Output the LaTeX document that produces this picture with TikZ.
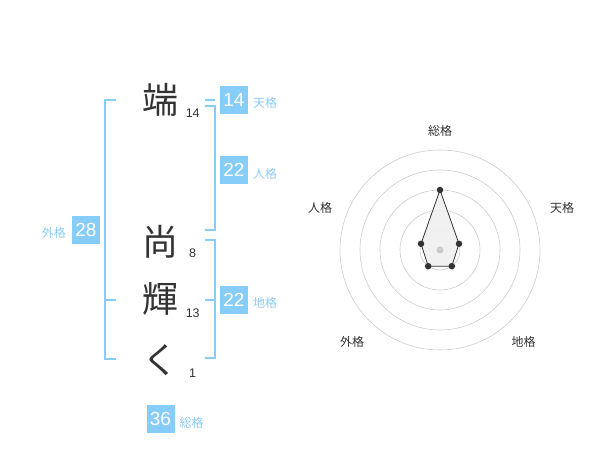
\documentclass[tikz,border=0pt]{standalone}
\usepackage{fontspec}
\setmainfont{Liberation Sans}
\newfontfamily\jp{Noto Sans CJK JP}
\definecolor{sky}{HTML}{87CDF9}
\definecolor{ink}{HTML}{333333}
\definecolor{ring}{HTML}{CCCCCC}
\begin{document}
\begin{tikzpicture}[x=1pt,y=-1pt,
  kanji/.style={inner sep=0pt,text=ink,font=\jp\fontsize{36}{36}\selectfont},
  strokes/.style={inner sep=0pt,text=ink,font=\fontsize{12.5}{12.5}\selectfont},
  badge/.style={fill=sky,text=white,minimum width=28pt,minimum height=28pt,inner sep=0pt,font=\fontsize{19}{19}\selectfont},
  tag/.style={inner sep=0pt,text=sky,font=\jp\fontsize{12}{12}\selectfont},
  bracket/.style={draw=sky,line width=2pt},
  axis/.style={inner sep=0pt,text=ink,font=\jp\fontsize{12}{12}\selectfont},
  dot/.style={circle,fill=ink,inner sep=0pt,minimum size=6.5pt}]
\useasboundingbox (0,0) rectangle (600,470);
% name characters
\node[kanji] (c1) at (160,100) {端};
\node[kanji] (c2) at (160,242) {尚};
\node[kanji] (c3) at (160,299) {輝};
\node[kanji] (c4) at (160,360) {く};
\node[strokes] (s1) at (192.7,113) {14};
\node[strokes] (s2) at (192.7,253) {8};
\node[strokes] (s3) at (192.7,313) {13};
\node[strokes] (s4) at (192.7,373.5) {1};
% brackets
\draw[bracket] (116,100) -- (105,100) -- (105,359) -- (116,359);
\draw[bracket] (105,300) -- (116,300);
\draw[bracket] (205,100) -- (215,100);
\draw[bracket] (205,106) -- (215,106) -- (215,230) -- (205,230);
\draw[bracket] (205,240) -- (215,240) -- (215,358) -- (205,358);
\draw[bracket] (205,300) -- (215,300);
% badges
\node[badge] (b1) at (234,100) {14};
\node[tag,anchor=west] (t1) at (253,103) {天格};
\node[badge] (b2) at (234,170) {22};
\node[tag,anchor=west] (t2) at (253,174) {人格};
\node[badge] (b3) at (234,300) {22};
\node[tag,anchor=west] (t3) at (253,303) {地格};
\node[badge] (b4) at (86,230) {28};
\node[tag,anchor=east] (t4) at (66,233) {外格};
\node[badge] (b5) at (160.5,419) {36};
\node[tag,anchor=west] (t5) at (179.5,422.5) {総格};
% radar chart
\foreach \r in {20,40,60,80,100} \draw[ring,line width=0.6pt] (440,250) circle[radius=\r];
\coordinate (p1) at (440,190);
\coordinate (p2) at (459.0,243.8);
\coordinate (p3) at (451.8,266.2);
\coordinate (p4) at (428.2,266.2);
\coordinate (p5) at (421.0,243.8);
\fill[black!6,opacity=0.9] (p1) -- (p2) -- (p3) -- (p4) -- (p5) -- cycle;
\draw[ink,line width=0.8pt] (p1) -- (p2) -- (p3) -- (p4) -- (p5) -- cycle;
\fill[ring] (440,250) circle[radius=3.5];
\foreach \p in {p1,p2,p3,p4,p5} \node[dot] at (\p) {};
\node[axis] (a1) at (440,130.5) {総格};
\node[axis] (a2) at (562,208) {天格};
\node[axis] (a3) at (320,208) {人格};
\node[axis] (a4) at (352,342) {外格};
\node[axis] (a5) at (523.5,342) {地格};
\end{tikzpicture}
\end{document}
